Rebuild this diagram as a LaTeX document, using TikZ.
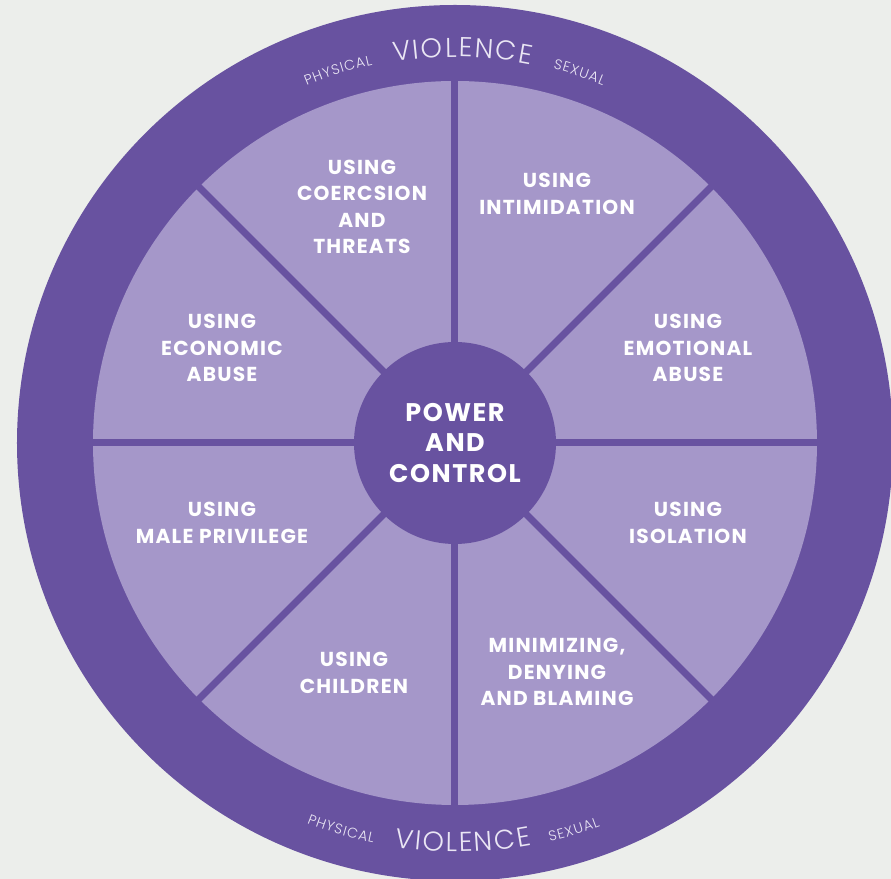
\documentclass[tikz,border=0pt]{standalone}
\usepackage{fontspec}
\setmainfont{Poppins}[LetterSpace=6]
\newfontfamily\ringfont{Poppins Light}
\usetikzlibrary{decorations.text}

\definecolor{ringpurple}{RGB}{104,82,160}
\definecolor{slicepurple}{RGB}{165,151,201}
\definecolor{paper}{RGB}{236,238,235}
\definecolor{ringtext}{RGB}{234,230,244}

\begin{document}
\begin{tikzpicture}[x=0.2mm,y=0.2mm,
    slice/.style={text=white,align=center,inner sep=0pt,
        font=\fontsize{11.5}{15}\selectfont\bfseries},
    hub/.style={circle,fill=ringpurple,minimum size=40.4mm,inner sep=0pt,
        text=white,align=center,font=\fontsize{14.5}{17.6}\selectfont\bfseries}]
    % Fondo
    \fill[paper] (-455,-436) rectangle (436,443);
    \useasboundingbox (-455,-436) rectangle (436,443);
    \clip (-455,-436) rectangle (436,443);

    % Anillo y rueda
    \fill[ringpurple] (0,0) circle[radius=438];
    \fill[slicepurple] (0,0) circle[radius=362];
    \foreach \a in {0,45,...,315} {
        \draw[ringpurple,line width=1.4mm] (0,0) -- (\a:366);
    }

    % Centro
    \node[hub] (power) at (0,0) {POWER\\AND\\CONTROL};

    % Sectores
    \node[slice] (coercion) at (-93,236) {USING\\COERCSION\\AND\\THREATS};
    \node[slice] (intimidation) at (102,249) {USING\\INTIMIDATION};
    \node[slice] (economic) at (-233,95) {USING\\ECONOMIC\\ABUSE};
    \node[slice] (emotional) at (233,95) {USING\\EMOTIONAL\\ABUSE};
    \node[slice] (privilege) at (-233,-80) {USING\\MALE PRIVILEGE};
    \node[slice] (isolation) at (233,-80) {USING\\ISOLATION};
    \node[slice] (children) at (-101,-230) {USING\\CHILDREN};
    \node[slice] (minimizing) at (102,-229) {MINIMIZING,\\DENYING\\AND BLAMING};

    % Texto curvo arriba
    \path[decorate,decoration={text along path,text align=center,text color=ringtext,
        text={|\ringfont\fontsize{8}{10}\selectfont\kern0.55pt|PHYSICAL}}]
        (114:387) arc[start angle=114,end angle=101,radius=387];
    \path[decorate,decoration={text along path,text align=center,text color=ringtext,
        text={|\ringfont\fontsize{15.5}{18}\selectfont\kern1.1pt|VIOLENCE}}]
        (101.5:386) arc[start angle=101.5,end angle=76.5,radius=386];
    \path[decorate,decoration={text along path,text align=center,text color=ringtext,
        text={|\ringfont\fontsize{8}{10}\selectfont\kern0.55pt|SEXUAL}}]
        (77:387) arc[start angle=77,end angle=66,radius=387];

    % Texto curvo abajo
    \path[decorate,decoration={text along path,text align=center,text color=ringtext,
        text={|\ringfont\fontsize{8}{10}\selectfont\kern0.55pt|PHYSICAL}}]
        (247:408) arc[start angle=247,end angle=260,radius=408];
    \path[decorate,decoration={text along path,text align=center,text color=ringtext,
        text={|\ringfont\fontsize{15.5}{18}\selectfont\kern1.1pt|VIOLENCE}}]
        (258.5:409) arc[start angle=258.5,end angle=283.5,radius=409];
    \path[decorate,decoration={text along path,text align=center,text color=ringtext,
        text={|\ringfont\fontsize{8}{10}\selectfont\kern0.55pt|SEXUAL}}]
        (281.5:410) arc[start angle=281.5,end angle=292.5,radius=410];
\end{tikzpicture}
\end{document}
